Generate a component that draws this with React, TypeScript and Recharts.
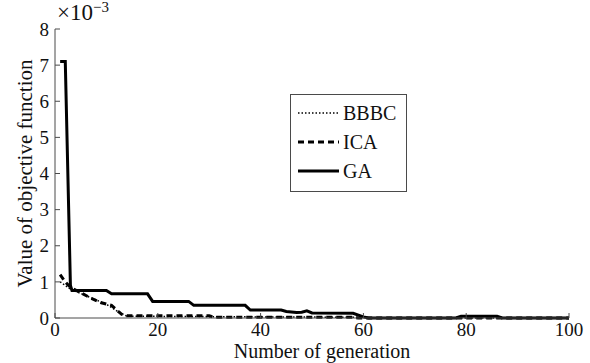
import { LineChart, Line, XAxis, YAxis, Label } from 'recharts';

// objective value (x 1e-3) against generation, sampled where each curve changes
const gaCurve = [
  { gen: 1, value: 7.1 }, { gen: 2, value: 7.1 }, { gen: 3, value: 0.9 }, { gen: 3.3, value: 0.76 },
  { gen: 10, value: 0.76 }, { gen: 11, value: 0.67 }, { gen: 18, value: 0.67 }, { gen: 19, value: 0.46 },
  { gen: 26, value: 0.46 }, { gen: 27, value: 0.35 }, { gen: 37, value: 0.35 }, { gen: 38, value: 0.22 },
  { gen: 44, value: 0.22 }, { gen: 45, value: 0.18 }, { gen: 47, value: 0.15 }, { gen: 48, value: 0.16 },
  { gen: 49, value: 0.2 }, { gen: 50, value: 0.14 }, { gen: 58, value: 0.13 }, { gen: 60, value: 0.03 },
  { gen: 61, value: 0 }, { gen: 78, value: 0 }, { gen: 79, value: 0.05 }, { gen: 86, value: 0.05 },
  { gen: 87, value: 0 }, { gen: 100, value: 0 },
];

const icaCurve = [
  { gen: 1, value: 1.2 }, { gen: 2, value: 1.0 }, { gen: 3, value: 0.85 }, { gen: 5, value: 0.7 },
  { gen: 7, value: 0.55 }, { gen: 9, value: 0.42 }, { gen: 11, value: 0.35 }, { gen: 12, value: 0.22 },
  { gen: 13, value: 0.1 }, { gen: 14, value: 0.06 }, { gen: 30, value: 0.06 }, { gen: 31, value: 0.02 },
  { gen: 58, value: 0.02 }, { gen: 59, value: 0 }, { gen: 100, value: 0 },
];

const bbbcCurve = [
  { gen: 1, value: 1.0 }, { gen: 3, value: 0.8 }, { gen: 5, value: 0.68 }, { gen: 8, value: 0.5 },
  { gen: 10, value: 0.38 }, { gen: 12, value: 0.2 }, { gen: 14, value: 0.05 }, { gen: 40, value: 0.03 },
  { gen: 60, value: 0.02 }, { gen: 61, value: 0 }, { gen: 100, value: 0 },
];

const xTicks = [0, 20, 40, 60, 80, 100];
const yTicks = [0, 1, 2, 3, 4, 5, 6, 7, 8];

const FONT = 'Liberation Serif';
const AXIS = '#4a4a4a';

const series = [
  { name: 'BBBC', data: bbbcCurve, dash: '1.5 2', width: 1.5 },
  { name: 'ICA', data: icaCurve, dash: '6 4', width: 3 },
  { name: 'GA', data: gaCurve, dash: undefined, width: 3 },
];

function LegendBox() {
  return (
    <div
      style={{
        position: 'absolute', left: 290, top: 94, width: 115, height: 96,
        border: `1px solid ${AXIS}`, background: '#fff', fontSize: 20,
      }}
    >
      {series.map((s, i) => (
        <div key={s.name} style={{ position: 'absolute', left: 6, top: 6 + i * 29, height: 24, display: 'flex', alignItems: 'center' }}>
          <svg width={44} height={10}>
            <line x1={1} y1={5} x2={42} y2={5} stroke="#000" strokeWidth={s.width} strokeDasharray={s.dash} />
          </svg>
          <span style={{ marginLeft: 2, color: '#111' }}>{s.name}</span>
        </div>
      ))}
    </div>
  );
}

export default function App() {
  const tickStyle = { fill: '#111', fontSize: 19, fontFamily: FONT };
  return (
    <div style={{ position: 'absolute', left: 0, top: 0, width: 590, height: 363, background: '#fff', fontFamily: FONT }}>
      <LineChart width={590} height={363} margin={{ top: 29, right: 21, left: 15, bottom: 20 }} style={{ fontFamily: FONT }}>
        <XAxis
          dataKey="gen" type="number" domain={[0, 100]} ticks={xTicks} height={25}
          stroke={AXIS} tickSize={-5} tickMargin={10} tick={tickStyle}
        >
          <Label value="Number of generation" position="bottom" offset={1} dx={10}
            style={{ fill: '#111', fontSize: 20, fontFamily: FONT }} />
        </XAxis>
        <XAxis
          xAxisId="top" orientation="top" dataKey="gen" type="number" domain={[0, 100]} ticks={xTicks}
          height={0} stroke={AXIS} tickSize={-5} tickFormatter={() => ''}
        />
        <YAxis
          type="number" domain={[0, 8]} ticks={yTicks} width={40}
          stroke={AXIS} tickSize={-5} tickMargin={11} tick={tickStyle}
        >
          <Label value="Value of objective function" angle={-90} position="insideLeft" dx={5}
            style={{ fill: '#111', fontSize: 21, fontFamily: FONT, textAnchor: 'middle' }} />
        </YAxis>
        <YAxis
          yAxisId="right" orientation="right" type="number" domain={[0, 8]} ticks={yTicks}
          width={0} stroke={AXIS} tickSize={-5} tickFormatter={() => ''}
        />
        {series.map(s => (
          <Line
            key={s.name} data={s.data} dataKey="value" name={s.name} type="linear"
            stroke="#000" strokeWidth={s.width} strokeDasharray={s.dash}
            dot={false} activeDot={false} isAnimationActive={false}
          />
        ))}
      </LineChart>
      <div style={{ position: 'absolute', left: 57, top: 0, fontSize: 23, color: '#111', lineHeight: '26px' }}>
        ×10<span style={{ fontSize: 15, position: 'relative', top: -8 }}>−3</span>
      </div>
      <LegendBox />
    </div>
  );
}
